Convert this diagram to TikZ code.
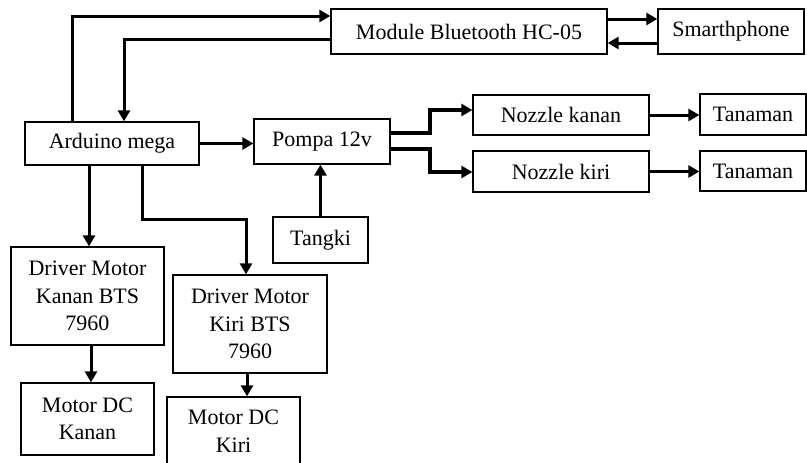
\documentclass[tikz,border=0pt]{standalone}
\usepackage{fontspec}
\setmainfont{Liberation Serif}
\usetikzlibrary{arrows.meta,calc}
\begin{document}
\begin{tikzpicture}[x=1pt,y=1pt,
  blk/.style={draw,line width=1.3pt,inner sep=0pt,align=center,font=\fontsize{22}{27.5}\selectfont},
  conn/.style={line width=3pt,-{Triangle[length=11pt,width=12pt]}},
  thick conn/.style={line width=4pt,-{Triangle[length=11pt,width=12pt]}}]
\clip (0,0) rectangle (807,-463);
% blocks
\node[blk,minimum width=276pt,minimum height=45pt] (bt) at (469,-31.5) {Module Bluetooth HC-05};
\node[blk,minimum width=146pt,minimum height=45pt] (sp) at (731,-31.5) {Smarthphone};
\node[blk,minimum width=174pt,minimum height=43pt] (ard) at (112,-143.5) {Arduino mega};
\node[blk,minimum width=136pt,minimum height=45pt] (pompa) at (322,-141.5) {Pompa 12v};
\node[blk,minimum width=176pt,minimum height=40pt] (nk) at (561,-115) {Nozzle kanan};
\node[blk,minimum width=176pt,minimum height=41pt] (nki) at (561,-171.5) {Nozzle kiri};
\node[blk,minimum width=106pt,minimum height=41pt] (t1) at (753,-114.5) {Tanaman};
\node[blk,minimum width=106pt,minimum height=40pt] (t2) at (753,-171) {Tanaman};
\node[blk,minimum width=95pt,minimum height=46pt] (tangki) at (320.5,-240) {Tangki};
\node[blk,minimum width=153pt,minimum height=98pt] (dk) at (87.5,-296) {Driver Motor\\Kanan BTS\\7960};
\node[blk,minimum width=154pt,minimum height=98pt] (dki) at (250,-324) {Driver Motor\\Kiri BTS\\7960};
\node[blk,minimum width=133pt,minimum height=72pt] (mk) at (87.5,-419) {Motor DC\\Kanan};
\node[blk,minimum width=133pt,minimum height=68pt] (mki) at (233.5,-431) {Motor DC\\Kiri};
% helper coordinates
\coordinate (c1) at (72,-16);
\coordinate (c2) at (124,-39);
\coordinate (c3) at (0,-19);
\coordinate (c4) at (0,-43);
\coordinate (p1) at (430,-133);
\coordinate (p2) at (430,-110);
\coordinate (p3) at (430,-149);
\coordinate (p4) at (430,-172);
\coordinate (d1) at (89,0);
\coordinate (d2) at (142,-219);
\coordinate (d3) at (246,-219);
\coordinate (d4) at (91,0);
\coordinate (d5) at (247,0);
% connectors
\draw[conn] (ard.north -| c1) |- (bt.west |- c1);
\draw[conn] (bt.west |- c2) -| (ard.north -| c2);
\draw[conn] (bt.east |- c3) -- (sp.west |- c3);
\draw[conn] (sp.west |- c4) -- (bt.east |- c4);
\draw[conn] (ard.east) -- (pompa.west |- ard.east);
\draw[conn] (tangki.north) -- (pompa.south -| tangki.north);
\draw[thick conn] (pompa.east |- p1) -- (p1) -- (p2) -- (nk.west |- p2);
\draw[thick conn] (pompa.east |- p3) -- (p3) -- (p4) -- (nki.west |- p4);
\draw[conn] (nk.east) -- (t1.west |- nk.east);
\draw[conn] (nki.east) -- (t2.west |- nki.east);
\draw[conn] (ard.south -| d1) -- (dk.north -| d1);
\draw[conn] (ard.south -| d2) -- (d2) -- (d3) -- (dki.north -| d3);
\draw[conn] (dk.south -| d4) -- (mk.north -| d4);
\draw[conn] (dki.south -| d5) -- (mki.north -| d5);
\end{tikzpicture}
\end{document}
